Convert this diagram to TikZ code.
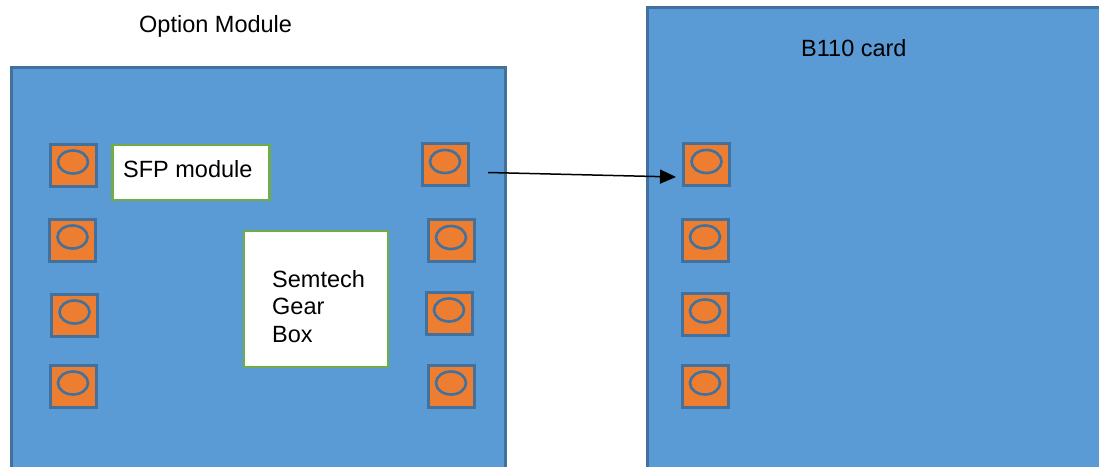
\documentclass[tikz,border=0pt]{standalone}
\usepackage{fontspec}
\setmainfont{Liberation Sans}
\usetikzlibrary{shapes.geometric,arrows.meta}

\definecolor{boardblue}{HTML}{5B9BD5}
\definecolor{edgeblue}{HTML}{41719C}
\definecolor{portorange}{HTML}{ED7D31}
\definecolor{chipgreen}{HTML}{70AD47}

\tikzset{
  board/.style={draw=edgeblue, fill=boardblue, line width=2.5pt, anchor=north west, inner sep=0pt},
  portbox/.style={draw=edgeblue, fill=portorange, line width=3pt, minimum width=46pt, minimum height=42pt, inner sep=0pt},
  porthole/.style={ellipse, draw=edgeblue, line width=2.6pt, minimum width=30pt, minimum height=23pt, inner sep=0pt},
  chipbox/.style={draw=chipgreen, fill=white, line width=2.5pt, inner sep=0pt},
  lbl/.style={font=\fontsize{23.5}{27.5}\selectfont, inner sep=0pt},
  link/.style={line width=1.5pt, -{Triangle[length=16pt,width=14pt]}}
}

% a connector pad: orange square with a ring slightly above its centre
\newcommand{\pad}[3]{%
  \node[portbox] (#1) at (#2,#3) {};
  \node[porthole] (#1r) at ([yshift=3pt]#1.center) {};
}

\begin{document}
\begin{tikzpicture}[x=1pt,y=-1pt]
  \clip (0,0) rectangle (1099,466);
  \fill[white] (0,0) rectangle (1099,466);

  % option module board
  \node[board, minimum width=494pt, minimum height=420pt] (om) at (10,66) {};
  \node[lbl, anchor=base west] (omt) at (139,32) {Option Module};

  % B110 card
  \node[board, minimum width=470pt, minimum height=480pt] (card) at (646,6) {};
  \node[lbl, anchor=base west] (cardt) at (801,56) {B110 card};

  % SFP module and gear box
  \node[chipbox, minimum width=157pt, minimum height=55pt] (sfp) at (191,172.5) {};
  \node[lbl, anchor=base west] (sfpt) at (123,177) {SFP module};

  \node[chipbox, minimum width=144pt, minimum height=136pt] (gb) at (316,299) {};
  % the base anchor of a multi-line node sits on its last line
  \node[lbl, anchor=base west, align=left] (gbt) at (272,342) {Semtech\\Gear\\Box};

  % pads on the option module, left column
  \pad{a1}{73}{165}
  \pad{a2}{72.5}{240}
  \pad{a3}{74.5}{315}
  \pad{a4}{73}{386}
  % pads on the option module, right column
  \pad{b1}{445}{164.5}
  \pad{b2}{451}{240.5}
  \pad{b3}{449}{313}
  \pad{b4}{451}{386}
  % pads on the B110 card
  \pad{c1}{706.5}{164.5}
  \pad{c2}{705}{240}
  \pad{c3}{705}{314}
  \pad{c4}{705}{386}

  % link from the option module to the card
  \coordinate (lnkA) at (488,172.5);
  \coordinate (lnkB) at (676,177);
  \draw[link] (lnkA) -- (lnkB);
\end{tikzpicture}
\end{document}
